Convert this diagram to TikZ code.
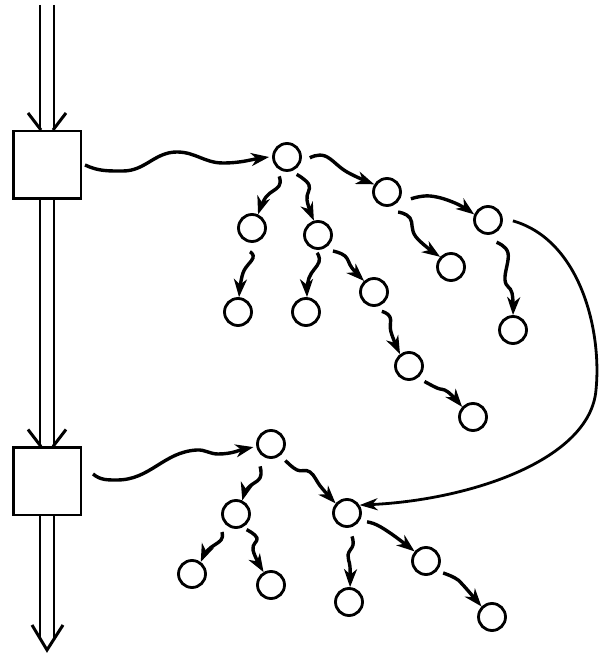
\documentclass[tikz,border=0pt]{standalone}
\usetikzlibrary{arrows.meta}
\begin{document}
\begin{tikzpicture}[x=1pt,y=1pt,
  ball/.style={circle,draw,line width=2.8pt,minimum size=27pt,inner sep=0pt},
  stage/.style={draw,line width=2.5pt,fill=white,minimum size=67.5pt,inner sep=0pt},
  rail/.style={line width=2.5pt},
  vhead/.style={line width=3pt},
  tip/.style={-{Stealth[length=18pt,width=13pt,inset=5.5pt]}},
  wave/.style={line width=3.4pt,tip},
  wig/.style={wave,line join=round},
  bigarc/.style={line width=2.8pt,-{Stealth[length=18pt,width=12pt,inset=5.5pt]}},
]
\useasboundingbox (0,0) rectangle (599,653);

% processing stages on the main line
\node[stage] (box1) at (47,488) {};
\node[stage] (box2) at (47,171.5) {};
\coordinate (src) at (47,648);
\coordinate (sink) at (47,3);

% double main line
\draw[rail] ([xshift=-7pt]src) -- ([xshift=-7pt]box1.north);
\draw[rail] ([xshift=7pt]src) -- ([xshift=7pt]box1.north);
\draw[rail] ([xshift=-7pt]box1.south) -- ([xshift=-7pt]box2.north);
\draw[rail] ([xshift=7pt]box1.south) -- ([xshift=7pt]box2.north);
\draw[rail] ([xshift=-7pt]box2.south) -- ([shift={(-7,11)}]sink);
\draw[rail] ([xshift=7pt]box2.south) -- ([shift={(7,11)}]sink);

% open heads of the double line
\draw[vhead] ([shift={(-19,17)}]box1.north) -- ([xshift=-6pt]box1.north);
\draw[vhead] ([shift={(19,17)}]box1.north) -- ([xshift=6pt]box1.north);
\draw[vhead] ([shift={(-19,17)}]box2.north) -- ([xshift=-6pt]box2.north);
\draw[vhead] ([shift={(19,17)}]box2.north) -- ([xshift=6pt]box2.north);
\draw[vhead] ([shift={(-15,25)}]sink) -- (sink) -- ([shift={(16,25)}]sink);

% upper tree
\node[ball] (A)  at (287,496) {};
\node[ball] (B)  at (252,425) {};
\node[ball] (Bc) at (238,341) {};
\node[ball] (C)  at (318,418) {};
\node[ball] (Cc) at (306,341) {};
\node[ball] (D)  at (387,461) {};
\node[ball] (E)  at (451,386) {};
\node[ball] (F)  at (488,433) {};
\node[ball] (Fc) at (513,323) {};
\node[ball] (G)  at (374,361) {};
\node[ball] (H)  at (409,287) {};
\node[ball] (I)  at (473,236) {};

% lower tree
\node[ball] (R)  at (271,209) {};
\node[ball] (L)  at (236,139) {};
\node[ball] (LL) at (192,79) {};
\node[ball] (LR) at (271,68) {};
\node[ball] (S)  at (347,140) {};
\node[ball] (Sc) at (349,51) {};
\node[ball] (T)  at (426,92) {};
\node[ball] (Tc) at (492,36) {};

% from the stages into the trees
\draw[wave] ([xshift=3pt]box1.east) to[out=-25,in=180] (123,482)
  to[out=0,in=180] (177,501) to[out=0,in=180] (223,490)
  to[out=0,in=188] ([xshift=-3pt]A.180);
\draw[wave] ([shift={(11,7.5)}]box2.east) to[out=-40,in=180] (117,173)
  to[out=0,in=183] (197,203) to[out=3,in=180] (218,199)
  to[out=0,in=192] ([xshift=-3pt]R.192);

% wavy links inside the upper tree
\draw[wig] plot[smooth,tension=0.7] coordinates {([shift={(248:6pt)}]A.248) (279,467) (266,456) (B.66)};
\draw[wig] plot[smooth,tension=0.7] coordinates {([shift={(299:5pt)}]A.299) (309,468) (307,453) (C.106)};
\draw[wig] plot[smooth,tension=0.7] coordinates {([shift={(-2:8pt)}]A.-2) (325,497) (347,481) (D.149)};
\draw[wig] plot[smooth,tension=0.7] coordinates {([shift={(-61:8pt)}]D.-61) (410,435) (416,416) (E.137)};
\draw[wig] plot[smooth,tension=0.7] coordinates {([shift={(-16:10pt)}]D.-16) (430,457) (455,450) (F.158)};
\draw[wig] plot[smooth,tension=0.7] coordinates {([shift={(-69:9pt)}]F.-69) (508,400) (505,373) (512,360) (Fc.90)};
\draw[wig] plot[smooth,tension=0.7] coordinates {([shift={(-95:9pt)}]B.-95) (253,395) (243,380) (Bc.86)};
\draw[wig] plot[smooth,tension=0.7] coordinates {([shift={(-93:3pt)}]C.-93) (319,391) (309,375) (Cc.86)};
\draw[wig] plot[smooth,tension=0.7] coordinates {([shift={(-47:7pt)}]C.-47) (345,397) (352,385) (G.132)};
\draw[wig] plot[smooth,tension=0.7] coordinates {([shift={(-68:6pt)}]G.-68) (390,336) (391,321) (H.127)};
\draw[wig] plot[smooth,tension=0.7] coordinates {([shift={(-45:7pt)}]H.-45) (437,265) (448,261) (I.137)};

% wavy links inside the lower tree
\draw[wig] plot[smooth,tension=0.7] coordinates {([shift={(-116:10pt)}]R.-116) (260,175) (248,165) (L.65)};
\draw[wig] plot[smooth,tension=0.7] coordinates {([shift={(-49:7pt)}]R.-49) (297,183) (310,181) (321,166) (S.140)};
\draw[wig] plot[smooth,tension=0.7] coordinates {([shift={(-128:8pt)}]L.-128) (221,113) (208,103) (LL.54)};
\draw[wig] plot[smooth,tension=0.7] coordinates {([shift={(-56:4pt)}]L.-56) (257,115) (253,103) (LR.120)};
\draw[wig] plot[smooth,tension=0.7] coordinates {([shift={(-78:9pt)}]S.-78) (353,108) (348,98) (350,86) (Sc.86)};
\draw[wig] plot[smooth,tension=0.7] coordinates {([shift={(-24:7pt)}]S.-24) (377,128) (393,118) (T.140)};
\draw[wig] plot[smooth,tension=0.7] coordinates {([shift={(-35:6pt)}]T.-35) (455,75) (463,68) (Tc.135)};

% long link from the upper tree down to the lower one
\draw[bigarc] ([shift={(-2:10pt)}]F.-2) .. controls (580,413) and (602,323) .. (596,263)
  .. controls (590,193) and (470,153) .. (S.32);
\end{tikzpicture}
\end{document}
